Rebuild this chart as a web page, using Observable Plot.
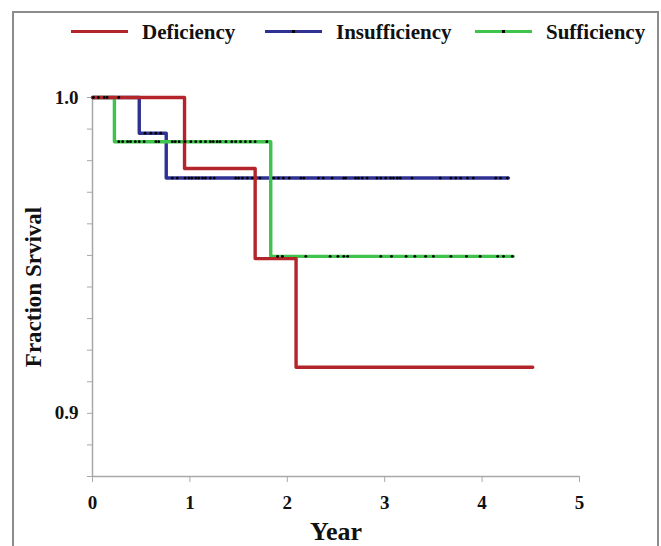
<!DOCTYPE html>
<html>
<head>
<meta charset="utf-8">
<script src="https://cdn.jsdelivr.net/npm/d3@7"></script>
<script src="https://cdn.jsdelivr.net/npm/@observablehq/plot@0.6"></script>
<style>
  html, body { margin: 0; padding: 0; background: #fff; }
  body { width: 661px; height: 546px; position: relative; overflow: hidden; font-family: "Liberation Serif", "DejaVu Serif", serif; }
  #frame { position: absolute; left: 12px; top: 11px; width: 643px; height: 600px; border: 2px solid #8c8c8c; border-bottom: none; }
  #legend { position: absolute; left: 0; top: 0; width: 661px; height: 50px; }
  .lg-line { position: absolute; top: 30px; width: 57px; height: 3px; }
  .lg-dot { position: absolute; left: 27px; top: 0px; width: 3px; height: 3px; background: #000; }
  .lg-text { position: absolute; top: 20px; font-size: 21px; line-height: 24px; font-weight: bold; color: #111; white-space: nowrap; }
  #chart { position: absolute; left: 0; top: 50px; }
</style>
</head>
<body>
<div id="frame"></div>
<div id="legend"></div>
<div id="chart"></div>
<script>
// ---- Data ----
const groups = ["Deficiency", "Insufficiency", "Sufficiency"];
const colors = ["#b3252b", "#2e3191", "#3ec34c"];

// Kaplan-Meier step points (time in years, survival fraction)
const defTime = [0, 0.945, 1.67, 2.09, 4.52];
const defSurv = [1.0, 0.9775, 0.949, 0.9146, 0.9146];
const insTime = [0, 0.48, 0.757, 4.27];
const insSurv = [1.0, 0.9887, 0.9745, 0.9745];
const sufTime = [0, 0.225, 1.83, 4.32];
const sufSurv = [1.0, 0.986, 0.9497, 0.9497];

// Censoring times (years)
const insCensor = [0.01, 0.06, 0.12, 0.15, 0.27,
  0.54, 0.60, 0.65, 0.70,
  0.82, 0.87, 0.95, 0.99, 1.02, 1.06, 1.09, 1.13, 1.16, 1.21, 1.25, 1.47, 1.50, 1.54, 1.59, 1.64, 1.72,
  1.86, 1.91, 1.96, 2.02, 2.14, 2.17, 2.32, 2.37, 2.46, 2.58, 2.60, 2.70, 2.73, 2.77, 2.82, 2.92, 2.96,
  3.01, 3.06, 3.09, 3.13, 3.16, 3.28, 3.57, 3.68, 3.73, 3.78, 3.85, 3.91, 4.14, 4.19, 4.26];
const sufCensor = [0.27, 0.31, 0.36, 0.39, 0.44, 0.48, 0.53, 0.65, 0.68, 0.82, 0.85, 0.89, 0.95, 1.01,
  1.06, 1.11, 1.16, 1.21, 1.24, 1.28, 1.31, 1.37, 1.43, 1.47, 1.52, 1.57, 1.62, 1.67, 1.79,
  1.90, 1.95, 2.19, 2.44, 2.52, 2.58, 2.62, 2.96, 3.07, 3.22, 3.31, 3.42, 3.50, 3.68, 3.84, 3.98, 4.16, 4.22, 4.31];

const xTicks = [0, 1, 2, 3, 4, 5];
const xTickTexts = ["0", "1", "2", "3", "4", "5"];
const yTicks = [0.88, 0.89, 0.90, 0.91, 0.92, 0.93, 0.94, 0.95, 0.96, 0.97, 0.98, 0.99, 1.00];
const yLabelValues = [0.9, 1.0];
const yLabelTexts = ["0.9", "1.0"];

// ---- Build tables ----
function steps(times, survs, group) {
  return times.map((t, i) => ({time: t, surv: survs[i], group}));
}
function survAt(times, survs, t) {
  let s = survs[0];
  for (let i = 0; i < times.length; i++) if (times[i] <= t) s = survs[i];
  return s;
}
const defData = steps(defTime, defSurv, groups[0]);
const insData = steps(insTime, insSurv, groups[1]);
const sufData = steps(sufTime, sufSurv, groups[2]);
const censorData = [
  ...insCensor.map(t => ({time: t, surv: survAt(insTime, insSurv, t)})),
  ...sufCensor.map(t => ({time: t, surv: survAt(sufTime, sufSurv, t)}))
];

const fmtY = d => {
  const i = yLabelValues.findIndex(v => Math.abs(v - d) < 1e-9);
  return i >= 0 ? yLabelTexts[i] : "";
};
const fmtX = d => {
  const i = xTicks.indexOf(d);
  return i >= 0 ? xTickTexts[i] : "";
};

const chart = Plot.plot({
  width: 661,
  height: 496,
  marginLeft: 92,
  marginRight: 82,
  marginTop: 47,
  marginBottom: 70,
  style: {fontFamily: "Liberation Serif, serif", fontWeight: "bold", fontSize: "18px", background: "transparent", color: "#111"},
  x: {domain: [0, 5]},
  y: {domain: [0.88, 1.0]},
  marks: [
    Plot.ruleX([0], {stroke: "#a8a8a8", strokeWidth: 1.5}),
    Plot.ruleY([0.88], {stroke: "#a8a8a8", strokeWidth: 1.5}),
    Plot.axisX({ticks: xTicks, tickSize: 6, tickPadding: 13, tickFormat: fmtX, stroke: "#a8a8a8", fill: "#111", fontSize: 19, label: null}),
    Plot.axisY({ticks: yTicks, tickSize: 5, tickPadding: 9, tickFormat: fmtY, stroke: "#a8a8a8", fill: "#111", fontSize: 19, label: null}),
    Plot.line(insData, {x: "time", y: "surv", curve: "step-after", stroke: colors[1], strokeWidth: 3.4}),
    Plot.line(sufData, {x: "time", y: "surv", curve: "step-after", stroke: colors[2], strokeWidth: 3.4}),
    Plot.line(defData, {x: "time", y: "surv", curve: "step-after", stroke: colors[0], strokeWidth: 3.4}),
    Plot.dot(censorData, {x: "time", y: "surv", r: 1.4, fill: "#000", stroke: "none"}),
    Plot.text(["Year"], {frameAnchor: "bottom", dy: 63, fontSize: 26, fontWeight: "bold", fill: "#111"}),
    Plot.text(["Fraction Srvival"], {frameAnchor: "left", textAnchor: "middle", rotate: -90, dx: -59, fontSize: 23, fontWeight: "bold", fill: "#111"})
  ]
});
document.getElementById("chart").appendChild(chart);

// ---- Legend ----
const legend = document.getElementById("legend");
const lgLineX = [71, 265, 475];
const lgTextX = [142, 336, 546];
const lgDots = [false, true, true];
groups.forEach((g, i) => {
  const line = document.createElement("div");
  line.className = "lg-line";
  line.style.left = lgLineX[i] + "px";
  line.style.background = colors[i];
  if (lgDots[i]) {
    const dot = document.createElement("div");
    dot.className = "lg-dot";
    line.appendChild(dot);
  }
  legend.appendChild(line);
  const txt = document.createElement("div");
  txt.className = "lg-text";
  txt.style.left = lgTextX[i] + "px";
  txt.textContent = g;
  legend.appendChild(txt);
});
</script>
</body>
</html>
